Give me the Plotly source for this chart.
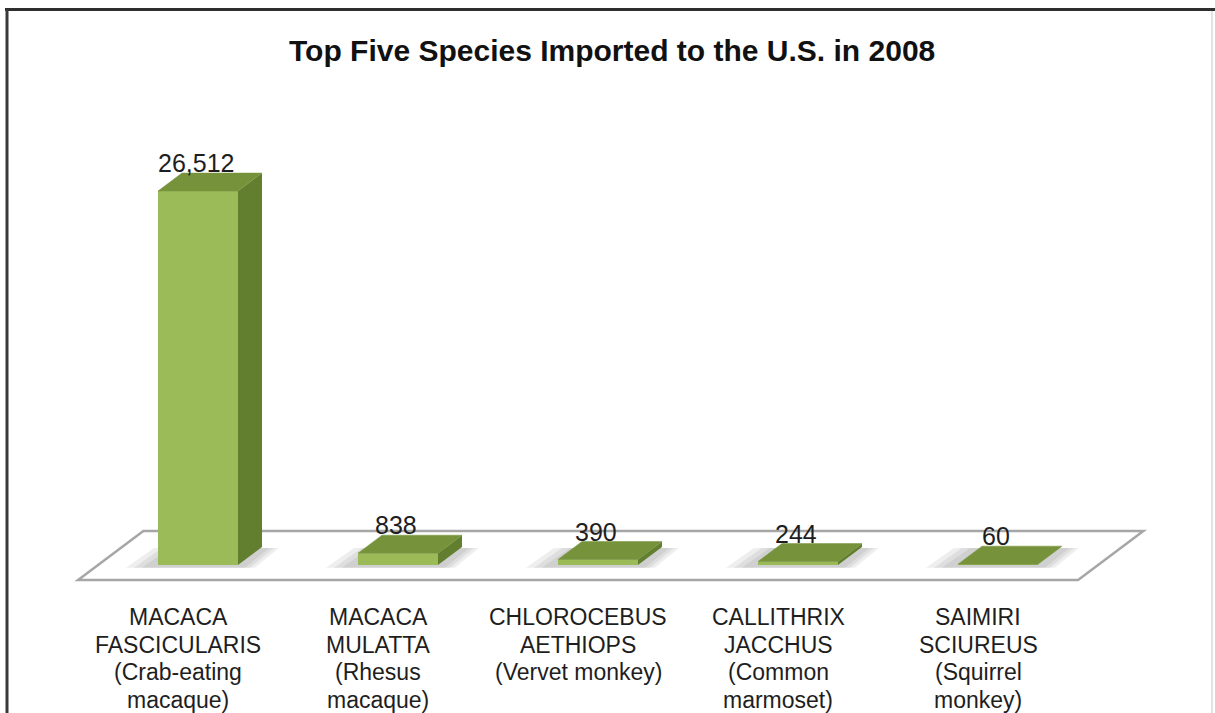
import plotly.graph_objects as go

# ---- data -------------------------------------------------------------
species = [
    ["MACACA", "FASCICULARIS", "(Crab-eating", "macaque)"],
    ["MACACA", "MULATTA", "(Rhesus", "macaque)"],
    ["CHLOROCEBUS", "AETHIOPS", "(Vervet monkey)"],
    ["CALLITHRIX", "JACCHUS", "(Common", "marmoset)"],
    ["SAIMIRI", "SCIUREUS", "(Squirrel", "monkey)"],
]
imports = [26512, 838, 390, 244, 60]
title_text = "Top Five Species Imported to the U.S. in 2008"

# ---- geometry / style -------------------------------------------------
W, H = 1215, 713
CAT_PX = 200          # pixels per category
X0_PX = 198           # pixel x of first category centre
BASE_PX = 565         # pixel y of the bar base plane
UNITS_PER_PX = 70.9   # value units per vertical pixel

BAR_W = 0.4
DEPTH_DX = 24 / CAT_PX            # depth offset of a bar, x units
DEPTH_DY = 18 * UNITS_PER_PX      # depth offset of a bar, y units
FLOOR_FRONT = -0.83               # floor edges, in multiples of bar depth
FLOOR_BACK = 1.89

LABEL_TOP_PX = 617    # centre of first label line
LABEL_STEP_PX = 27.7  # label line spacing

FRONT_C = "#9bbb59"
TOP_C = "#76933c"
SIDE_C = "#627f30"
FLOOR_LINE = "#a6a6a6"
FONT = "Liberation Sans, Arial, sans-serif"

x_range = [(0 - X0_PX) / CAT_PX, (W - X0_PX) / CAT_PX]
y_range = [-(H - BASE_PX) * UNITS_PER_PX, BASE_PX * UNITS_PER_PX]

idx = list(range(len(imports)))
fig = go.Figure()

# floor plate
n = len(imports)
fx0, fx1 = -0.5, n - 0.5
floor_pts = [
    (fx0 + FLOOR_FRONT * DEPTH_DX, FLOOR_FRONT * DEPTH_DY),
    (fx1 + FLOOR_FRONT * DEPTH_DX, FLOOR_FRONT * DEPTH_DY),
    (fx1 + FLOOR_BACK * DEPTH_DX, FLOOR_BACK * DEPTH_DY),
    (fx0 + FLOOR_BACK * DEPTH_DX, FLOOR_BACK * DEPTH_DY),
]
shapes = []
path = "M " + " L ".join(f"{px},{py}" for px, py in floor_pts) + " Z"
shapes.append(dict(type="path", path=path, xref="x", yref="y", layer="below",
                   fillcolor="white", line=dict(color=FLOOR_LINE, width=2.5)))

# soft shadows on the floor around each bar footprint
for i in idx:
    for grow in [0.14, 0.10, 0.06]:
        l = i - BAR_W / 2 - grow
        r = i + BAR_W / 2 + grow * 0.6
        pts = [(l - 0.02, -0.15 * DEPTH_DY), (r, -0.15 * DEPTH_DY),
               (r + DEPTH_DX, DEPTH_DY * 0.95), (l + DEPTH_DX, DEPTH_DY * 0.95)]
        p = "M " + " L ".join(f"{px},{py}" for px, py in pts) + " Z"
        shapes.append(dict(type="path", path=p, xref="x", yref="y", layer="below",
                           fillcolor="rgba(90,90,90,0.10)", line=dict(width=0)))

# bar front faces
fig.add_trace(go.Bar(x=idx, y=imports, base=0, width=BAR_W,
                     marker=dict(color=FRONT_C, line=dict(width=0)),
                     hoverinfo="skip", showlegend=False))

# bar side and top faces
for i, v in zip(idx, imports):
    r = i + BAR_W / 2
    l = i - BAR_W / 2
    fig.add_trace(go.Scatter(
        x=[r, r + DEPTH_DX, r + DEPTH_DX, r, r],
        y=[0, DEPTH_DY, v + DEPTH_DY, v, 0],
        fill="toself", fillcolor=SIDE_C, mode="lines",
        line=dict(width=0, color=SIDE_C), hoverinfo="skip", showlegend=False))
    fig.add_trace(go.Scatter(
        x=[l, r, r + DEPTH_DX, l + DEPTH_DX, l],
        y=[v, v, v + DEPTH_DY, v + DEPTH_DY, v],
        fill="toself", fillcolor=TOP_C, mode="lines",
        line=dict(width=0.5, color=TOP_C), hoverinfo="skip", showlegend=False))

annotations = []
# value labels above each bar
for i, v in zip(idx, imports):
    annotations.append(dict(
        x=i - 0.01, y=v + DEPTH_DY, xref="x", yref="y", text=f"{v:,}",
        showarrow=False, xanchor="center", yanchor="bottom", yshift=-6,
        font=dict(family=FONT, size=25, color="#1e1e1e")))

# category labels along the front edge of the floor, one line at a time
for i, lines in zip(idx, species):
    for k, line in enumerate(lines):
        ly = -(LABEL_TOP_PX + k * LABEL_STEP_PX - BASE_PX) * UNITS_PER_PX
        annotations.append(dict(
            x=i + FLOOR_FRONT * DEPTH_DX, y=ly, xref="x", yref="y", text=line,
            showarrow=False, xanchor="center", yanchor="middle",
            font=dict(family=FONT, size=23, color="#1e1e1e")))

# chart title
annotations.append(dict(
    x=612 / W, y=1 - 50 / H, xref="paper", yref="paper", text=f"<b>{title_text}</b>",
    showarrow=False, xanchor="center", yanchor="middle",
    font=dict(family=FONT, size=30, color="#111111")))

# outer frame
shapes += [
    dict(type="line", xref="paper", yref="paper", x0=5 / W, x1=1, y0=1 - 9.5 / H, y1=1 - 9.5 / H,
         line=dict(color="#2e2e2e", width=3)),
    dict(type="line", xref="paper", yref="paper", x0=7 / W, x1=7 / W, y0=0, y1=1 - 9.5 / H,
         line=dict(color="#3a3a3a", width=3)),
    dict(type="line", xref="paper", yref="paper", x0=1212 / W, x1=1212 / W, y0=0, y1=1 - 11 / H,
         line=dict(color="#d8d8d8", width=1.5)),
]

fig.update_layout(
    width=W, height=H,
    margin=dict(l=0, r=0, t=0, b=0),
    paper_bgcolor="white", plot_bgcolor="white",
    xaxis=dict(range=x_range, visible=False, fixedrange=True),
    yaxis=dict(range=y_range, visible=False, fixedrange=True),
    shapes=shapes, annotations=annotations,
    showlegend=False,
)

fig.write_html("out.html", config={"displayModeBar": False})
